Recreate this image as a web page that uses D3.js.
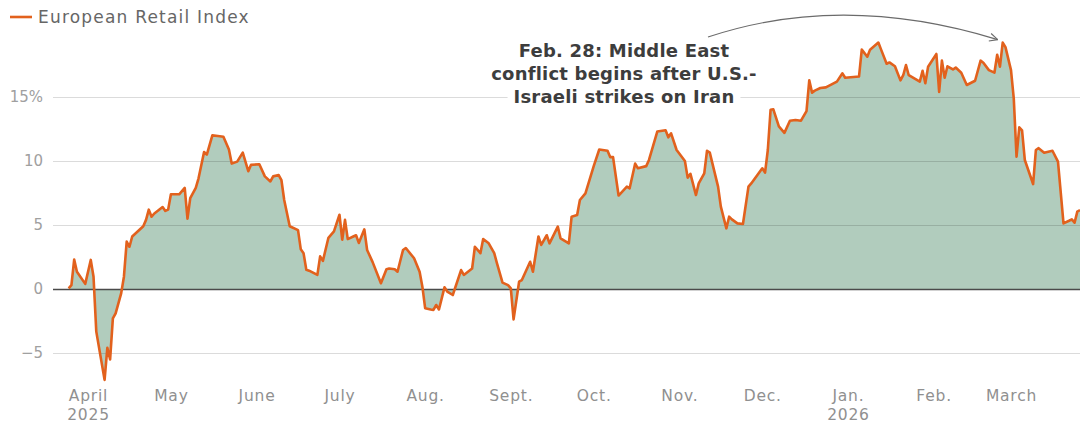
<!DOCTYPE html>
<html>
<head>
<meta charset="utf-8">
<script src="https://cdn.jsdelivr.net/npm/d3@7"></script>
<style>
  html, body { margin: 0; padding: 0; background: #fff; }
  svg { display: block; font-family: "DejaVu Sans", sans-serif; }
</style>
</head>
<body>
<svg id="chart" width="1080" height="423"></svg>
<script>
// ---------------- DATA ----------------
const seriesName = "European Retail Index";
const dates = [
"2025-03-25","2025-03-26","2025-03-27","2025-03-28","2025-03-31","2025-04-02","2025-04-03","2025-04-04","2025-04-07","2025-04-08",
"2025-04-09","2025-04-10","2025-04-11","2025-04-13","2025-04-14","2025-04-15","2025-04-16","2025-04-17","2025-04-21","2025-04-22",
"2025-04-23","2025-04-24","2025-04-25","2025-04-28","2025-04-29","2025-04-30","2025-05-01","2025-05-04","2025-05-06","2025-05-07",
"2025-05-08","2025-05-10","2025-05-11","2025-05-13","2025-05-14","2025-05-16","2025-05-18","2025-05-20","2025-05-22","2025-05-23",
"2025-05-25","2025-05-27","2025-05-29","2025-05-30","2025-06-02","2025-06-04","2025-06-06","2025-06-07","2025-06-09","2025-06-10",
"2025-06-11","2025-06-13","2025-06-16","2025-06-17","2025-06-18","2025-06-19","2025-06-20","2025-06-23","2025-06-24","2025-06-25",
"2025-06-27","2025-06-29","2025-07-01","2025-07-02","2025-07-03","2025-07-04","2025-07-06","2025-07-07","2025-07-08","2025-07-10",
"2025-07-11","2025-07-13","2025-07-16","2025-07-18","2025-07-19","2025-07-21","2025-07-22","2025-07-24","2025-07-25","2025-07-28",
"2025-07-30","2025-07-31","2025-08-01","2025-08-03","2025-08-04","2025-08-05","2025-08-06","2025-08-08","2025-08-09","2025-08-11",
"2025-08-14","2025-08-15","2025-08-18","2025-08-19","2025-08-21","2025-08-22","2025-08-24","2025-08-26","2025-08-27","2025-08-29",
"2025-08-31","2025-09-01","2025-09-02","2025-09-04","2025-09-05","2025-09-08","2025-09-09","2025-09-11","2025-09-12","2025-09-14",
"2025-09-15","2025-09-18","2025-09-19","2025-09-22","2025-09-23","2025-09-25","2025-09-26","2025-09-28","2025-10-01","2025-10-03",
"2025-10-06","2025-10-07","2025-10-08","2025-10-10","2025-10-13","2025-10-14","2025-10-16","2025-10-17","2025-10-20","2025-10-21",
"2025-10-24","2025-10-27","2025-10-28","2025-10-29","2025-10-31","2025-11-03","2025-11-04","2025-11-05","2025-11-07","2025-11-08",
"2025-11-10","2025-11-11","2025-11-12","2025-11-15","2025-11-16","2025-11-18","2025-11-19","2025-11-20","2025-11-22","2025-11-24",
"2025-11-26","2025-11-27","2025-12-01","2025-12-02","2025-12-03","2025-12-04","2025-12-05","2025-12-07","2025-12-09","2025-12-11",
"2025-12-13","2025-12-15","2025-12-17","2025-12-18","2025-12-19","2025-12-20","2025-12-22","2025-12-24","2025-12-28","2025-12-30",
"2025-12-31","2026-01-05","2026-01-06","2026-01-08","2026-01-09","2026-01-12","2026-01-13","2026-01-15","2026-01-16","2026-01-18",
"2026-01-20","2026-01-21","2026-01-22","2026-01-23","2026-01-25","2026-01-27","2026-01-28","2026-01-29","2026-01-30","2026-02-02",
"2026-02-03","2026-02-04","2026-02-05","2026-02-06","2026-02-08","2026-02-09","2026-02-11","2026-02-13","2026-02-16","2026-02-18",
"2026-02-19","2026-02-21","2026-02-23","2026-02-24","2026-02-25","2026-02-26","2026-02-27","2026-03-01","2026-03-02","2026-03-03",
"2026-03-04","2026-03-05","2026-03-06","2026-03-09","2026-03-10","2026-03-11","2026-03-13","2026-03-16","2026-03-18","2026-03-20",
"2026-03-22","2026-03-23","2026-03-24","2026-03-25","2026-03-26"
];
const values = [
0.05,0.3,2.3,1.35,0.4,2.27,0.96,-3.33,-7.1,-4.6,
-5.5,-2.3,-1.9,-0.34,0.96,3.7,3.3,4.1,4.9,5.4,
6.2,5.65,5.9,6.4,6.1,6.2,7.4,7.4,7.9,5.5,
7.1,7.9,8.65,10.7,10.5,12.0,11.95,11.9,10.9,9.8,
9.95,10.65,9.2,9.7,9.75,8.8,8.4,8.8,8.9,8.5,
6.95,4.9,4.6,3.1,2.8,1.5,1.43,1.1,2.55,2.2,
4.0,4.5,5.8,3.85,5.4,3.9,4.1,4.2,3.6,4.66,
3.05,2.1,0.45,1.54,1.6,1.54,1.35,3.05,3.2,2.4,
1.35,0.18,-1.5,-1.6,-1.64,-1.25,-1.6,0.13,-0.2,-0.47,
1.48,1.1,1.6,3.3,2.8,3.9,3.57,2.8,2.0,0.5,
0.3,0.05,-2.37,0.57,0.7,2.13,1.35,4.1,3.44,4.2,
3.57,4.87,3.96,3.57,5.65,5.78,6.95,7.47,9.6,10.9,
10.8,10.3,10.3,7.3,8.0,7.87,9.8,9.43,9.6,10.08,
12.3,12.4,11.85,12.16,10.86,10.0,8.7,9.0,7.34,8.25,
9.04,10.8,10.65,8.0,6.43,4.74,5.65,5.44,5.13,5.08,
8.0,8.25,9.43,9.09,10.86,14.0,14.04,12.7,12.2,13.15,
13.2,13.15,13.9,16.3,15.34,15.5,15.7,15.75,16.2,16.85,
16.5,16.6,18.7,18.15,18.7,19.25,18.7,17.6,17.7,17.4,
16.3,16.7,17.5,16.7,16.45,16.2,17.05,16.07,17.37,18.36,
15.4,17.84,16.5,17.4,17.15,17.3,16.9,15.94,16.27,17.84,
17.68,17.1,16.9,18.3,17.37,19.25,18.9,17.1,14.9,10.34,
12.63,12.4,10.08,8.2,10.86,11.0,10.65,10.8,9.95,5.13,
5.33,5.44,5.18,6.04,6.17
];
const yTicks = [-5, 0, 5, 10, 15];
const yTickLabels = ["\u22125", "0", "5", "10", "15%"];
const monthTicks = ["2025-04-01","2025-05-01","2025-06-01","2025-07-01","2025-08-01","2025-09-01",
                    "2025-10-01","2025-11-01","2025-12-01","2026-01-01","2026-02-01","2026-03-01"];
const monthLabels = ["April","May","June","July","Aug.","Sept.","Oct.","Nov.","Dec.","Jan.","Feb.","March"];
const yearLabels  = ["2025","","","","","","","","","2026","",""];
const annotationLines = ["Feb. 28: Middle East", "conflict begins after U.S.-", "Israeli strikes on Iran"];
const annotationDate = "2026-02-26";

// ---------------- CHART ----------------
const FONT = "'DejaVu Sans', sans-serif";
const parse = d3.utcParse("%Y-%m-%d");
const data = dates.map((d, i) => ({ date: parse(d), value: values[i] }));

const svg = d3.select("#chart");
const gridLeft = 53, gridRight = 1080;

const x = d3.scaleUtc()
  .domain([parse("2025-04-01"), parse("2026-03-01")])
  .range([88, 1011]);
const y = d3.scaleLinear().domain([-5, 15]).range([353, 97]);

// area
const area = d3.area()
  .x(d => x(d.date))
  .y0(y(0))
  .y1(d => y(d.value));
svg.append("path")
  .datum(data)
  .attr("d", area)
  .attr("fill", "#b1ccbd");

// gridlines + y labels
const yAxis = d3.axisLeft(y)
  .tickValues(yTicks)
  .tickFormat((d, i) => yTickLabels[i])
  .tickSize(-(gridRight - gridLeft))
  .tickPadding(10);
const gy = svg.append("g")
  .attr("transform", `translate(${gridLeft},0)`)
  .call(yAxis);
gy.select(".domain").remove();
gy.selectAll(".tick line")
  .attr("stroke", d => d === 0 ? "#4a4a4a" : "#000")
  .attr("stroke-opacity", d => d === 0 ? 1 : 0.14)
  .attr("stroke-width", d => d === 0 ? 1.3 : 1);
gy.selectAll(".tick text")
  .attr("fill", "#a0a0a0")
  .style("font-size", "15px")
  .style("font-family", FONT);

// line
const line = d3.line()
  .x(d => x(d.date))
  .y(d => y(d.value));
svg.append("path")
  .datum(data)
  .attr("d", line)
  .attr("fill", "none")
  .attr("stroke", "#e2611d")
  .attr("stroke-width", 2.6)
  .attr("stroke-linejoin", "round");

// x axis
const xAxis = d3.axisBottom(x)
  .tickValues(monthTicks.map(parse))
  .tickSize(0)
  .tickFormat((d, i) => monthLabels[i]);
const gx = svg.append("g")
  .attr("transform", `translate(0,${y(-5) + 48})`)
  .call(xAxis);
gx.select(".domain").remove();
gx.selectAll(".tick text")
  .attr("y", 0)
  .attr("dy", null)
  .attr("fill", "#909090")
  .style("font-size", "15.5px")
  .style("letter-spacing", "0.8px")
  .style("font-family", FONT);
// second line of labels (years)
gx.selectAll(".tick").each(function(d, i) {
  if (yearLabels[i]) {
    d3.select(this).append("text")
      .attr("y", 19)
      .attr("fill", "#909090")
      .attr("text-anchor", "middle")
      .style("font-size", "15.5px")
      .style("letter-spacing", "0.8px")
      .style("font-family", FONT)
      .text(yearLabels[i]);
  }
});

// legend
const leg = svg.append("g");
leg.append("line")
  .attr("x1", 10).attr("x2", 32).attr("y1", 17).attr("y2", 17)
  .attr("stroke", "#e2611d").attr("stroke-width", 2.6);
leg.append("text")
  .attr("x", 38).attr("y", 23)
  .attr("fill", "#666")
  .style("font-size", "17px")
  .style("font-family", FONT)
  .style("letter-spacing", "1.2px")
  .text(seriesName);

// annotation
const ann = svg.append("g");
const annX = 624;
const annBase = [57, 80, 103];
annotationLines.forEach((t, i) => {
  const txt = ann.append("text")
    .attr("x", annX).attr("y", annBase[i])
    .attr("text-anchor", "middle")
    .attr("fill", "#3d3d3d")
    .style("font-size", "18px")
    .style("font-weight", "bold")
    .style("font-family", FONT)
    .style("letter-spacing", "0.2px")
    .text(t);
  const bb = txt.node().getBBox();
  ann.insert("rect", "text")
    .attr("x", bb.x - 6).attr("y", bb.y + 2)
    .attr("width", bb.width + 12).attr("height", bb.height - 4)
    .attr("fill", "#fff");
});

// arrow pointing to the peak before the conflict
const tip = data.find(d => +d.date === +parse(annotationDate));
const ex = x(tip.date) - 5, ey = y(tip.value) - 3;
const sx = 708, sy = 37;
const cx = (sx + ex) / 2 - 10, cy = -8;
svg.append("path")
  .attr("d", `M${sx},${sy} Q${cx},${cy} ${ex},${ey}`)
  .attr("fill", "none")
  .attr("stroke", "#6b6b6b")
  .attr("stroke-width", 1.1);
const ang = Math.atan2(ey - cy, ex - cx);
const hl = 9;
[ang + Math.PI - 0.45, ang + Math.PI + 0.45].forEach(a => {
  svg.append("line")
    .attr("x1", ex).attr("y1", ey)
    .attr("x2", ex + hl * Math.cos(a)).attr("y2", ey + hl * Math.sin(a))
    .attr("stroke", "#6b6b6b").attr("stroke-width", 1.1);
});
</script>
</body>
</html>
